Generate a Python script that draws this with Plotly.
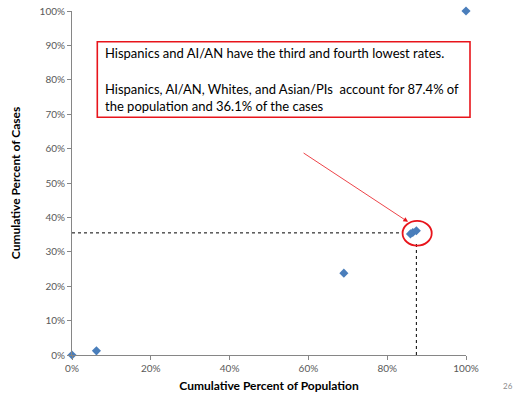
import plotly.graph_objects as go

# Cumulative percentages (population vs cases)
pop_pct = [0.0, 6.2, 69.0, 85.9, 86.5, 87.4, 100.0]
case_pct = [0.0, 1.2, 23.8, 35.2, 35.6, 36.1, 100.0]

y_tick_vals = [0, 10, 20, 30, 40, 50, 60, 70, 80, 90, 100]
y_tick_text = ["0%", "10%", "20%", "30%", "40%", "50%", "60%", "70%", "80%", "90%", "100%"]
x_tick_vals = [0, 20, 40, 60, 80, 100]
x_tick_text = ["0%", "20%", "40%", "60%", "80%", "100%"]

ref_x = 87.4
ref_y = 35.5

FONT = "Lato"
TXT = 13

L, T, PW, PH = 72, 11, 394, 344
W, H = 527, 401


def px(xpx):
    return (xpx - 72) / PW


def py(ypx):
    return (355 - ypx) / PH


fig = go.Figure()
fig.add_trace(go.Scatter(
    x=pop_pct, y=case_pct, mode="markers",
    marker=dict(symbol="diamond", size=7, color="#4a7ebb"),
    cliponaxis=False, showlegend=False, hoverinfo="skip",
))

# dotted reference lines
fig.add_shape(type="line", xref="x", yref="y", x0=0, x1=83.8, y0=ref_y, y1=ref_y,
              line=dict(color="black", width=1, dash="dot"))
fig.add_shape(type="line", xref="x", yref="y", x0=ref_x, x1=ref_x, y0=0, y1=32.9,
              line=dict(color="black", width=1, dash="dot"))
# red ellipse
fig.add_shape(type="circle", xref="x", yref="y", x0=83.9, x1=91.3, y0=31.8, y1=39.0,
              line=dict(color="#e8141b", width=1.8))
# text box border
fig.add_shape(type="rect", xref="paper", yref="paper", x0=px(97.3), x1=px(470), y0=py(117.3), y1=py(41.7),
              line=dict(color="#e8141b", width=1.6), fillcolor="white")

fig.add_annotation(xref="paper", yref="paper", x=px(103), y=py(53),
                   xanchor="left", yanchor="middle", showarrow=False, align="left",
                   text="Hispanics and AI/AN have the third and fourth lowest rates.",
                   font=dict(family=FONT, size=TXT, color="black"))
fig.add_annotation(xref="paper", yref="paper", x=px(103), y=py(97.8),
                   xanchor="left", yanchor="middle", showarrow=False, align="left",
                   text="Hispanics, AI/AN, Whites, and Asian/PIs  account for 87.4% of<br>the population and 36.1% of the cases",
                   font=dict(family=FONT, size=TXT, color="black"))

# arrow
fig.add_annotation(xref="x", yref="y", axref="x", ayref="y",
                   x=85.3, y=38.7, ax=58.4, ay=59.0, text="",
                   showarrow=True, arrowhead=2, arrowsize=1.2, arrowwidth=0.8,
                   arrowcolor="#e8141b")

# page number
fig.add_annotation(xref="paper", yref="paper", x=px(515), y=py(393),
                   text="26", showarrow=False, font=dict(family=FONT, size=8, color="#8c8c8c"))

axis_common = dict(
    showgrid=False, zeroline=False, showline=True, linecolor="#868686", linewidth=1,
    ticks="outside", ticklen=4, tickcolor="#868686",
    tickfont=dict(family=FONT, size=10, color="#595959"),
    range=[0, 100], fixedrange=True, automargin=False,
)

fig.update_xaxes(**axis_common, tickmode="array", tickvals=x_tick_vals, ticktext=x_tick_text,
                 title=dict(text="<b>Cumulative Percent of Population</b>", standoff=8,
                            font=dict(family=FONT, size=12, color="black")))
fig.update_yaxes(**axis_common, tickmode="array", tickvals=y_tick_vals, ticktext=y_tick_text,
                 title=dict(text="<b>Cumulative Percent of Cases</b>", standoff=16,
                            font=dict(family=FONT, size=12, color="black")))

fig.update_layout(
    width=W, height=H,
    margin=dict(l=L, r=W - L - PW, t=T, b=H - T - PH),
    plot_bgcolor="white", paper_bgcolor="white",
)

fig.write_html("out.html", config={"displayModeBar": False},
               post_script="document.body.style.margin='0px';")
